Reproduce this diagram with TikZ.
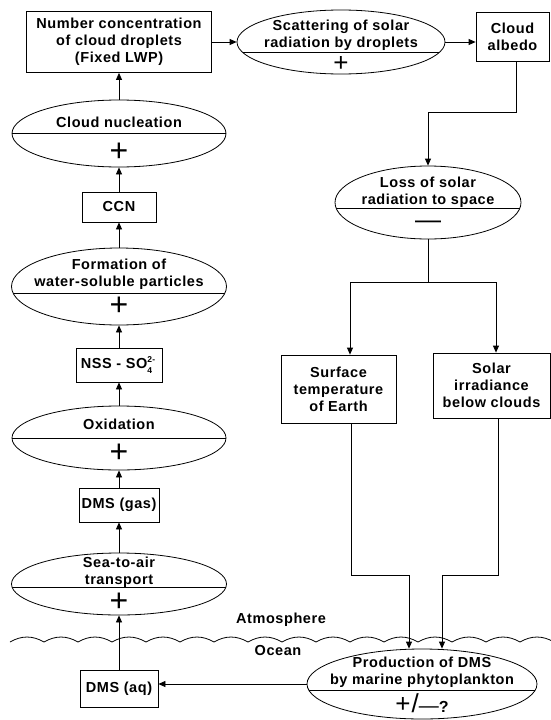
\documentclass[tikz,border=0pt]{standalone}
\usepackage{fontspec}
\setmainfont{Liberation Sans}[LetterSpace=4]
\usetikzlibrary{
  calc,shapes.geometric,positioning,
  arrows,arrows.meta
}
\begin{document}
\begin{tikzpicture}[x=1pt,y=1pt,line width=0.8pt,
  every node/.style={font=\bfseries\fontsize{14.5}{17}\selectfont},
  arr/.style={-{Triangle[length=7pt,width=6pt]}},
  blk/.style={draw,rectangle,inner sep=0pt,align=center},
  proc/.style={draw,ellipse,inner sep=0pt,
    path picture={\draw ([yshift=-#1]path picture bounding box.west)
      -- ([yshift=-#1]path picture bounding box.east);}},
  proc/.default=0pt,
  txt/.style={align=center,inner sep=0pt},
  sgn/.style={inner sep=0pt,font=\mdseries\fontsize{32}{32}\selectfont}
]
\useasboundingbox (0,0) rectangle (551,-720);

\node[blk,minimum width=185,minimum height=61] (num) at (119,-42)
  {Number concentration\\of cloud droplets\\(Fixed LWP)};
\node[proc=10pt,minimum width=208,minimum height=64] (scat) at (341,-42) {};
\node[txt] (scat-t) at (341,-35) {Scattering of solar\\radiation by droplets};
\node[sgn,font=\mdseries\fontsize{26}{26}\selectfont] (scat-s) at (341,-64) {+};
\node[blk,minimum width=73,minimum height=49] (albedo) at (512.5,-36.5) {Cloud\\albedo};

\node[proc,minimum width=214,minimum height=67] (nucl) at (119,-133.5) {};
\node[txt] (nucl-t) at (119,-122) {Cloud nucleation};
\node[sgn] (nucl-s) at (119,-152) {+};
\node[blk,minimum width=74,minimum height=30] (ccn) at (119,-207) {CCN};
\node[proc=6.5pt,minimum width=215,minimum height=77] (form) at (119,-286.5) {};
\node[txt] (form-t) at (119,-274) {Formation of\\water-soluble particles};
\node[sgn] (form-s) at (119,-306) {+};
\node[blk,minimum width=86,minimum height=34] (nss) at (119,-365)
  {NSS - SO\rlap{\raisebox{6.5pt}{\fontsize{8.5}{8.5}\selectfont 2-}}\raisebox{-5pt}{\fontsize{8.5}{8.5}\selectfont 4}\hspace{5pt}};
\node[proc,minimum width=214,minimum height=64] (oxid) at (119,-438) {};
\node[txt] (oxid-t) at (119,-424) {Oxidation};
\node[sgn] (oxid-s) at (119,-453) {+};
\node[blk,minimum width=80,minimum height=34] (gas) at (119,-505) {DMS (gas)};
\node[proc=3pt,minimum width=215,minimum height=62] (sea) at (119,-584) {};
\node[txt] (sea-t) at (119,-572) {Sea-to-air\\transport};
\node[sgn] (sea-s) at (119,-602) {+};
\node[blk,minimum width=78,minimum height=37] (aq) at (119,-688.5) {DMS (aq)};

\node[proc=5.5pt,minimum width=186,minimum height=73] (loss) at (428,-202.5) {};
\node[txt] (loss-t) at (428,-192) {Loss of solar\\radiation to space};
\node[sgn,font=\mdseries\fontsize{26}{26}\selectfont] (loss-s) at (428,-225) {\textemdash};
\node[blk,minimum width=115,minimum height=68] (surf) at (338.5,-389)
  {Surface\\temperature\\of Earth};
\node[blk,minimum width=117,minimum height=65] (solar) at (491.5,-385.5)
  {Solar\\irradiance\\below clouds};

\node[txt] (atmo) at (281,-620) {Atmosphere};
\node[txt] (ocean) at (278,-651) {Ocean};
\node[proc=6pt,minimum width=230,minimum height=70] (prod) at (422,-684) {};
\node[txt] (prod-t) at (422,-672) {Production of DMS\\by marine phytoplankton};
\node[sgn,font=\mdseries\fontsize{26}{26}\selectfont] (prod-s) at (422,-703)
  {+/{\fontsize{20}{20}\selectfont\textemdash}{\bfseries\fontsize{16}{16}\selectfont ?}};

\foreach \i in {0,...,15}
  \draw (10+34*\i,-642) to[out=30,in=150] (44+34*\i,-642);

\coordinate (fork) at (428,-282);

\draw[arr] (nucl) -- (num);
\draw[arr] (ccn) -- (nucl);
\draw[arr] (form) -- (ccn);
\draw[arr] (nss) -- (form);
\draw[arr] (oxid) -- (nss);
\draw[arr] (gas) -- (oxid);
\draw[arr] (sea) -- (gas);
\draw[arr] (aq) -- (sea);
\draw[arr] (num) -- (scat);
\draw[arr] (scat.east) -- (scat.east -| albedo.west);
\draw[arr] ([xshift=3.5pt]albedo.south) -- ++(0,-51) -| (loss.north);
\draw (loss.south) -- (fork);
\draw[arr] (fork) -| ([xshift=11.5pt]surf.north);
\draw[arr] (fork) -| ([xshift=4.5pt]solar.north);
\draw[arr] ([xshift=12.5pt]surf.south) -- ++(0,-152) -| ([xshift=-13pt]prod.north);
\draw[arr] ([xshift=6.5pt]solar.south) -- ++(0,-157) -| ([xshift=20pt]prod.north);
\draw[arr] (prod.west) -- (prod.west -| aq.east);
\end{tikzpicture}
\end{document}
